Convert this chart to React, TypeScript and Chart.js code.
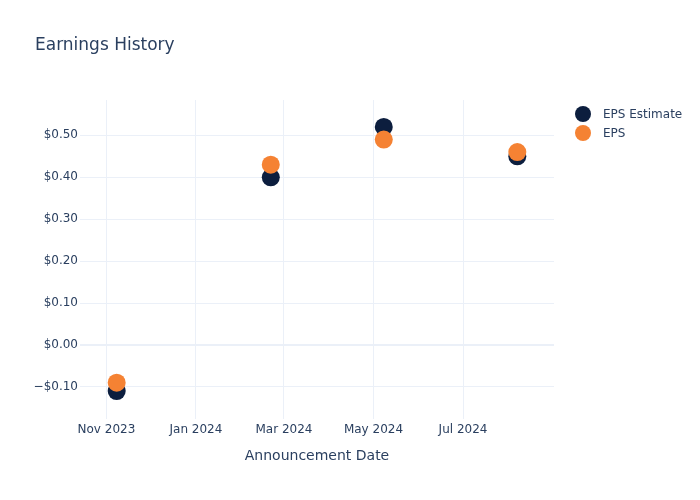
import React, { useEffect, useRef } from "react";
import { Chart, registerables } from "chart.js";

Chart.register(...registerables);

const chartTitle = "Earnings History";
const xAxisTitle = "Announcement Date";
const announcementDates = ["2023-11-08", "2024-02-21", "2024-05-08", "2024-08-07"];
const epsEstimate = [-0.11, 0.4, 0.52, 0.45];
const epsActual = [-0.09, 0.43, 0.49, 0.46];
const xTickDates = ["2023-11-01", "2024-01-01", "2024-03-01", "2024-05-01", "2024-07-01"];
const xTickLabels = ["Nov 2023", "Jan 2024", "Mar 2024", "May 2024", "Jul 2024"];
const yTickValues = [-0.1, 0, 0.1, 0.2, 0.3, 0.4, 0.5];
const xRange = ["2023-10-14", "2024-09-01"];
const yRange = [-0.1753, 0.5843];

const FONT = "'DejaVu Sans', sans-serif";
const TEXT = "#2a3f5f";
const GRID = "#ebf0f8";
const ESTIMATE_COLOR = "#0c1e3e";
const EPS_COLOR = "#f58233";

const ts = (d: string) => Date.parse(d + "T00:00:00Z");

const fmtMoney = (v: number) => {
  const s = "$" + Math.abs(v).toFixed(2);
  return v < -1e-9 ? "\u2212" + s : s;
};

export default function App() {
  const ref = useRef<HTMLCanvasElement | null>(null);
  useEffect(() => {
    if (!ref.current) return;
    const datasets = [
      {
        label: "EPS Estimate",
        data: announcementDates.map((d, i) => ({ x: ts(d), y: epsEstimate[i] })),
        backgroundColor: ESTIMATE_COLOR,
        borderColor: ESTIMATE_COLOR,
        pointRadius: 9,
        pointBorderWidth: 0,
        order: 2,
      },
      {
        label: "EPS",
        data: announcementDates.map((d, i) => ({ x: ts(d), y: epsActual[i] })),
        backgroundColor: EPS_COLOR,
        borderColor: EPS_COLOR,
        pointRadius: 9,
        pointBorderWidth: 0,
        order: 1,
      },
    ];
    const decor = {
      id: "decor",
      afterDraw(chart: any) {
        const ctx = chart.ctx;
        const area = chart.chartArea;
        ctx.save();
        ctx.fillStyle = TEXT;
        ctx.font = `17px ${FONT}`;
        ctx.textAlign = "left";
        ctx.textBaseline = "alphabetic";
        ctx.fillText(chartTitle, 35, 50);
        ctx.font = `14px ${FONT}`;
        ctx.textAlign = "center";
        ctx.fillText(xAxisTitle, (area.left + area.right) / 2, 460);
        ctx.font = `12px ${FONT}`;
        ctx.textAlign = "left";
        ctx.textBaseline = "middle";
        chart.data.datasets.forEach((ds: any, i: number) => {
          const y = 114 + i * 19;
          ctx.beginPath();
          ctx.fillStyle = ds.backgroundColor;
          ctx.arc(583, y, 8, 0, Math.PI * 2);
          ctx.fill();
          ctx.fillStyle = TEXT;
          ctx.fillText(ds.label, 603, y + 1);
        });
        ctx.restore();
      },
    };
    const chart = new Chart(ref.current, {
      type: "scatter",
      data: { datasets } as any,
      plugins: [decor],
      options: {
        animation: false,
        responsive: false,
        layout: { padding: { top: 100, right: 146, left: 0, bottom: 0 } },
        plugins: {
          legend: { display: false },
          title: { display: false },
          tooltip: { enabled: false },
        },
        scales: {
          x: {
            type: "linear",
            min: ts(xRange[0]),
            max: ts(xRange[1]),
            afterFit: (s: any) => {
              s.height = 81.5;
            },
            afterBuildTicks: (s: any) => {
              s.ticks = xTickDates.map((d) => ({ value: ts(d) }));
            },
            ticks: {
              autoSkip: false,
              maxRotation: 0,
              padding: 4,
              color: TEXT,
              font: { family: FONT, size: 12 },
              callback: (v: any) => {
                const idx = xTickDates.findIndex((d) => ts(d) === v);
                return idx >= 0 ? xTickLabels[idx] : "";
              },
            },
            grid: { color: GRID, drawTicks: false, lineWidth: 1 },
            border: { display: false },
          },
          y: {
            type: "linear",
            min: yRange[0],
            max: yRange[1],
            afterFit: (s: any) => {
              s.width = 80;
            },
            afterBuildTicks: (s: any) => {
              s.ticks = yTickValues.map((v) => ({ value: v }));
            },
            ticks: {
              padding: 2,
              color: TEXT,
              font: { family: FONT, size: 12 },
              callback: (v: any) => fmtMoney(Number(v)),
            },
            grid: {
              color: GRID,
              drawTicks: false,
              lineWidth: (c: any) => (c.tick && Math.abs(c.tick.value) < 1e-9 ? 2 : 1),
            },
            border: { display: false },
          },
        },
      },
    });
    return () => chart.destroy();
  }, []);
  return (
    <div style={{ position: "fixed", left: 0, top: 0, width: 700, height: 500, background: "#fff" }}>
      <canvas ref={ref} width={700} height={500} />
    </div>
  );
}
